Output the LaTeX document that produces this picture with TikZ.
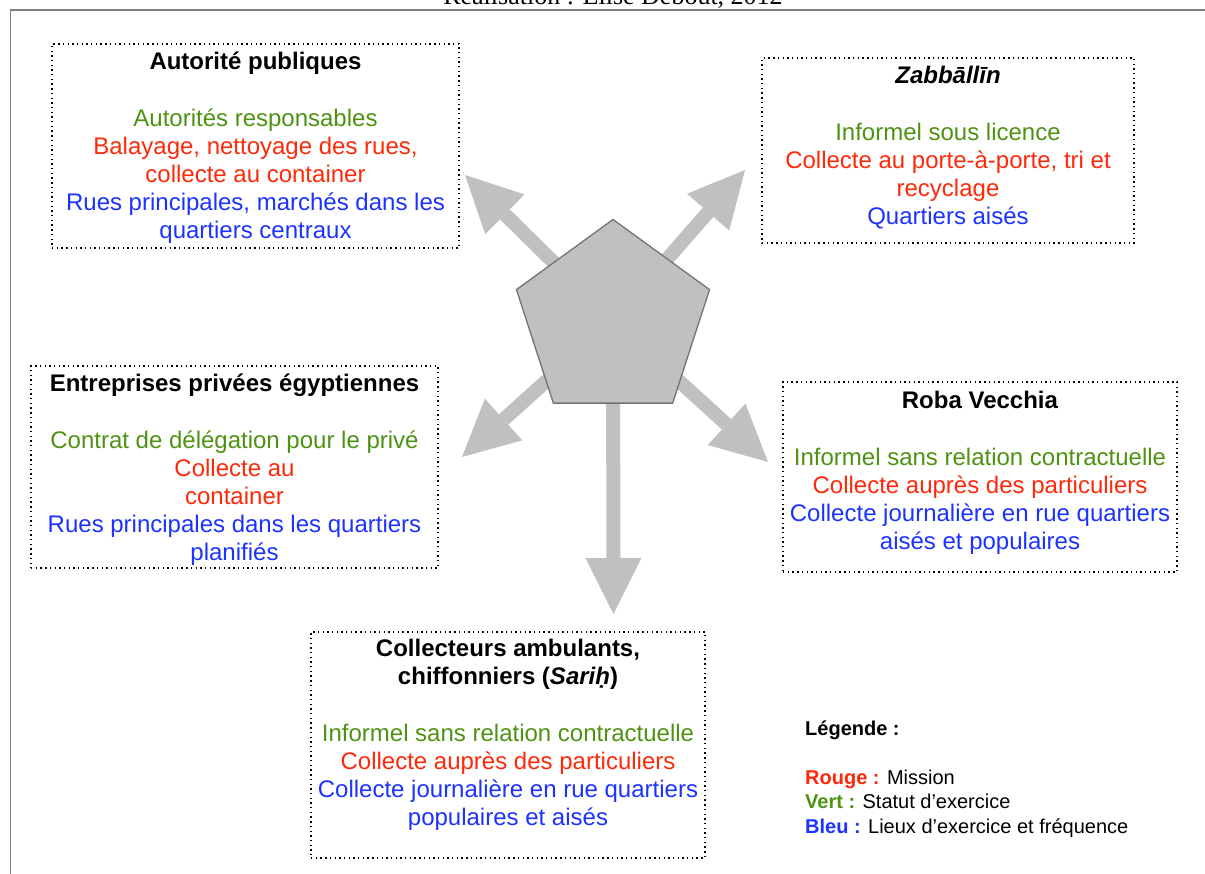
\documentclass[tikz,border=0pt]{standalone}
\usepackage{fontspec}
\setmainfont{Liberation Serif}
\setsansfont{Liberation Sans}
\usepackage{xcolor}
\usetikzlibrary{arrows.meta, shapes.geometric}

\definecolor{Vert}{RGB}{78,146,18}
\definecolor{Rouge}{RGB}{255,40,8}
\definecolor{Bleu}{RGB}{28,50,255}
\definecolor{Gris}{RGB}{192,192,192}

\begin{document}
\begin{tikzpicture}[x=1pt, y=-1pt,
  acteur/.style={rectangle, draw=black, line width=1.4pt,
    dash pattern=on 1.4pt off 3.3pt, inner sep=0pt},
  %
  texte/.style={font=\sffamily\fontsize{24}{28}\selectfont, align=center,
    inner sep=0pt, anchor=north},
  %
  legende/.style={font=\sffamily\fontsize{20}{24.5}\selectfont, align=left,
    inner sep=0pt, anchor=north west},
  %
  penta/.style={regular polygon, regular polygon sides=5, minimum size=203pt,
    inner sep=0pt, fill=Gris, draw=black!55, line width=1.3pt},
  %
  fleche/.style={draw=Gris, line width=14pt,
    -{Triangle[length=56pt, width=56pt, line width=0pt]}}
  ]

  \useasboundingbox (0,0) rectangle (1205,874);
  \clip (0,0) rectangle (1205,874);

  % cadre et credit
  \node [font=\rmfamily\fontsize{26}{30}\selectfont, anchor=base, inner sep=0pt]
    (credit) at (613,5) {Réalisation : Elise Debout, 2012};
  \draw [black!50, line width=1.5pt] (1205,10) -| (10.5,874);

  % les cadres des acteurs
  \begin{scope}
    \node [acteur, minimum width=407pt, minimum height=204pt] (autorite) at (255.5,146) {};
    \node [acteur, minimum width=372pt, minimum height=185pt] (zabbalin) at (948,150.5) {};
    \node [acteur, minimum width=407pt, minimum height=202pt] (entreprises) at (234.5,467) {};
    \node [acteur, minimum width=394pt, minimum height=190pt] (roba) at (980,477) {};
    \node [acteur, minimum width=394pt, minimum height=226pt] (collecteurs) at (508,745) {};
  \end{scope}

  % textes des cadres
  \begin{scope}
    \node [texte] (autoriteT) at (255.5,50) {%
      \strut\textbf{Autorité publiques}\\[29pt]
      \textcolor{Vert}{Autorités responsables}\\
      \textcolor{Rouge}{Balayage, nettoyage des rues,}\\
      \textcolor{Rouge}{collecte au container}\\
      \textcolor{Bleu}{Rues principales, marchés dans les}\\
      \textcolor{Bleu}{quartiers centraux}};
    \node [texte] (zabbalinT) at (948,64) {%
      \strut\textbf{\textit{Zabbāllīn}}\\[29pt]
      \textcolor{Vert}{Informel sous licence}\\
      \textcolor{Rouge}{Collecte au porte-à-porte, tri et}\\
      \textcolor{Rouge}{recyclage}\\
      \textcolor{Bleu}{Quartiers aisés}};
    \node [texte] (entreprisesT) at (234.5,372) {%
      \strut\textbf{Entreprises privées égyptiennes}\\[29pt]
      \textcolor{Vert}{Contrat de délégation pour le privé}\\
      \textcolor{Rouge}{Collecte au}\\
      \textcolor{Rouge}{container}\\
      \textcolor{Bleu}{Rues principales dans les quartiers}\\
      \textcolor{Bleu}{planifiés}};
    \node [texte] (robaT) at (980,389) {%
      \strut\textbf{Roba Vecchia}\\[29pt]
      \textcolor{Vert}{Informel sans relation contractuelle}\\
      \textcolor{Rouge}{Collecte auprès des particuliers}\\
      \textcolor{Bleu}{Collecte journalière en rue quartiers}\\
      \textcolor{Bleu}{aisés et populaires}};
    \node [texte] (collecteursT) at (508,637) {%
      \strut\textbf{Collecteurs ambulants,}\\
      \textbf{chiffonniers (\textit{Sariḥ})}\\[29pt]
      \textcolor{Vert}{Informel sans relation contractuelle}\\
      \textcolor{Rouge}{Collecte auprès des particuliers}\\
      \textcolor{Bleu}{Collecte journalière en rue quartiers}\\
      \textcolor{Bleu}{populaires et aisés}};
  \end{scope}

  % fleches depuis le pentagone
  \begin{scope}
    \coordinate (versAutorite) at (465,175);
    \coordinate (versZabbalin) at (745,170);
    \coordinate (versEntreprises) at (462,457);
    \coordinate (versRoba) at (768,462);
    \coordinate (versCollecteurs) at (613.5,614);
    \coordinate (centre) at (613,321);
    \draw [fleche] (centre) -- (versAutorite);
    \draw [fleche] (centre) -- (versZabbalin);
    \draw [fleche] (centre) -- (versEntreprises);
    \draw [fleche] (centre) -- (versRoba);
    \draw [fleche] (centre) -- (versCollecteurs);
    \node [penta] (pentagone) at (centre) {};
  \end{scope}

  % legende
  \node [legende] (legende) at (805,718) {%
    \strut\textbf{Légende :}\\[24.5pt]
    \textbf{\textcolor{Rouge}{Rouge :}} Mission\\
    \textbf{\textcolor{Vert}{Vert :}} Statut d’exercice\\
    \textbf{\textcolor{Bleu}{Bleu :}} Lieux d’exercice et fréquence};

\end{tikzpicture}
\end{document}
